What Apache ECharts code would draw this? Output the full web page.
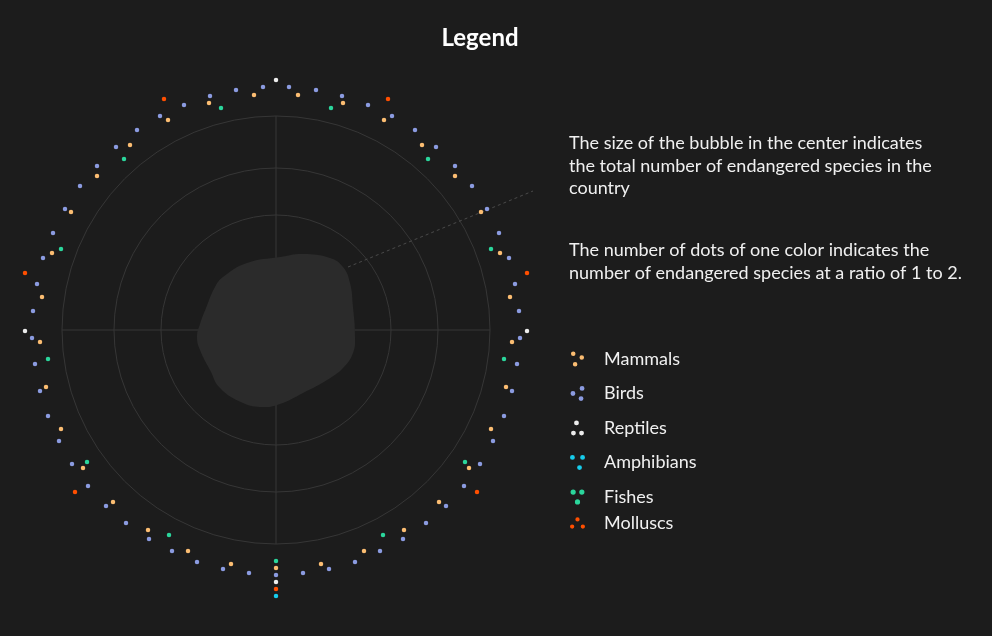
<!DOCTYPE html>
<html>
<head>
<meta charset="utf-8">
<script src="https://cdn.jsdelivr.net/npm/echarts@6/dist/echarts.min.js"></script>
<style>
html,body{margin:0;padding:0;background:#1c1c1c;}
#chart{width:992px;height:636px;}
</style>
</head>
<body>
<div id="chart"></div>
<script>
// Dot positions: [x, y] relative to the chart centre (pixel units, y up)
const mammals = [
  [0,-238],
  [22,235],[67,227],[108,210],[146,185],[179,154],[205,118],[224,77],[234,33],
  [236,-12],[230,-57],[215,-99],[193,-138],[163,-172],[128,-200],[88,-221],[45,-234],
  [-22,235],[-67,227],[-108,210],[-146,185],[-179,154],[-205,118],[-224,77],[-234,33],
  [-236,-12],[-230,-57],[-215,-99],[-193,-138],[-163,-172],[-128,-200],[-88,-221],[-45,-234]
];
const birds = [
  [0,-245],
  [13,243],[40,240],[66,234],[92,225],[116,214],[139,200],[160,183],[179,164],[196,144],
  [211,121],[223,97],[233,72],[239,46],[243,19],[244,-8],[241,-34],[236,-61],[228,-86],
  [217,-111],[204,-134],[188,-156],[170,-176],[150,-193],[127,-209],[104,-221],[79,-232],
  [53,-239],[27,-243],
  [-13,243],[-40,240],[-66,234],[-92,225],[-116,214],[-139,200],[-160,183],[-179,164],[-196,144],
  [-211,121],[-223,97],[-233,72],[-239,46],[-243,19],[-244,-8],[-241,-34],[-236,-61],[-228,-86],
  [-217,-111],[-204,-134],[-188,-156],[-170,-176],[-150,-193],[-127,-209],[-104,-221],[-79,-232],
  [-53,-239],[-27,-243]
];
const reptiles = [[0,250],[251,-1],[-251,-1],[0,-252]];
const amphibians = [[0,-266]];
const fishes = [
  [0,-231],
  [55,222],[152,171],[215,81],[228,-29],[189,-132],[107,-205],
  [-55,222],[-152,171],[-215,81],[-228,-29],[-189,-132],[-107,-205]
];
const molluscs = [
  [0,-259],
  [112,231],[251,57],[201,-162],
  [-112,231],[-251,57],[-201,-162]
];
// Outline of the central bubble (relative to centre)
const blobX = [-53,-29,4,27,54,67,74,77,79,77,67,51,27,4,-13,-33,-56,-66,-76,-79,-76,-70,-61];
const blobY = [53,67,73,76,72,63,47,23,-7,-23,-38,-50,-63,-74,-77,-73,-58,-40,-20,-7,6,22,43];
// Dashed pointer from bubble to the note
const pointerLine = [[72,63],[257,139]];

const names = ['Mammals','Birds','Reptiles','Amphibians','Fishes','Molluscs'];
const colors = ['#fbbd72','#8b9be0','#ececec','#17cdec','#2bd69c','#ff4f00'];
const seriesData = [mammals, birds, reptiles, amphibians, fishes, molluscs];

function circ(cx, cy, r) {
  return 'M' + (cx - r) + ' ' + cy + ' a' + r + ' ' + r + ' 0 1 0 ' + (2*r) + ' 0 a' + r + ' ' + r + ' 0 1 0 ' + (-2*r) + ' 0 Z ';
}
function tri(p) { return 'path://' + p.map(q => circ(q[0], q[1], 2.4)).join(''); }
const icons = [
  tri([[3,2],[12,6],[5,13]]),
  tri([[11,2],[2,7],[10,12]]),
  tri([[8,2],[5,12],[13,12]]),
  tri([[3,2],[13,2],[10,12]]),
  tri([[3,2],[11,2],[7,11]]),
  tri([[8,2],[2,10],[14,10]])
];

const chart = echarts.init(document.getElementById('chart'));
const C = [276, 330];
const polarRadii = [115, 162, 214];
const lineCol = '#363636';
const txt = { color: '#f0f0f0', fontSize: 18, fontFamily: 'Lato', lineHeight: 20, padding: [0,0,0,14] };

const option = {
  backgroundColor: '#1c1c1c',
  animation: false,
  grid: { left: 6, top: 60, width: 540, height: 540 },
  xAxis: { type: 'value', min: -270, max: 270, show: false },
  yAxis: { type: 'value', min: -270, max: 270, show: false },
  polar: polarRadii.map(r => ({ center: C, radius: r })),
  angleAxis: polarRadii.map((r, i) => ({
    polarIndex: i, type: 'value', min: 0, max: 360, interval: 90, startAngle: 90,
    axisLine: { show: true, lineStyle: { color: lineCol, width: 1 } },
    axisTick: { show: false }, axisLabel: { show: false },
    splitLine: { show: i === 2, lineStyle: { color: lineCol, width: 1 } }
  })),
  radiusAxis: polarRadii.map((r, i) => ({ polarIndex: i, show: false, min: 0, max: 1 })),
  legend: [
    {
      data: names.slice(0, 5).map((n, i) => ({ name: n, icon: icons[i] })),
      orient: 'vertical', left: 570, top: 349, padding: 0,
      itemWidth: 15, itemHeight: 15, itemGap: 14.5, selectedMode: false,
      textStyle: txt
    },
    {
      data: [{ name: 'Molluscs', icon: icons[5] }],
      orient: 'vertical', left: 570, top: 513, padding: 0,
      itemWidth: 15, itemHeight: 12, selectedMode: false,
      textStyle: txt
    }
  ],
  graphic: [
    { type: 'text', x: 480, y: 38, style: { text: 'Legend', fill: '#ffffff', font: 'bold 24px Lato', textAlign: 'center', textVerticalAlign: 'middle' } },
    { type: 'text', x: 569, y: 132, style: { text: 'The size of the bubble in the center indicates\nthe total number of endangered species in the\ncountry', fill: '#f0f0f0', font: '18px Lato', lineHeight: 22.5, textVerticalAlign: 'top' } },
    { type: 'text', x: 569, y: 239, style: { text: 'The number of dots of one color indicates the\nnumber of endangered species at a ratio of 1 to 2.', fill: '#f0f0f0', font: '18px Lato', lineHeight: 22.5, textVerticalAlign: 'top' } }
  ],
  series: [
    {
      type: 'custom', name: 'bubble', coordinateSystem: 'cartesian2d', z: 1,
      data: [[0, 0]],
      renderItem: function (params, api) {
        const pts = blobX.map((x, i) => api.coord([x, blobY[i]]));
        return { type: 'polygon', shape: { points: pts, smooth: 0.45 }, style: { fill: '#2b2b2b' } };
      }
    },
    {
      type: 'line', name: 'pointer', data: pointerLine, symbol: 'none', z: 2,
      lineStyle: { color: '#4a4a4a', width: 1, type: [3, 3] }
    }
  ].concat(names.map((n, i) => ({
    type: 'scatter', name: n, data: seriesData[i], symbolSize: 4.5, z: 5,
    itemStyle: { color: colors[i], opacity: 1 }
  })))
};
chart.setOption(option);
</script>
</body>
</html>
